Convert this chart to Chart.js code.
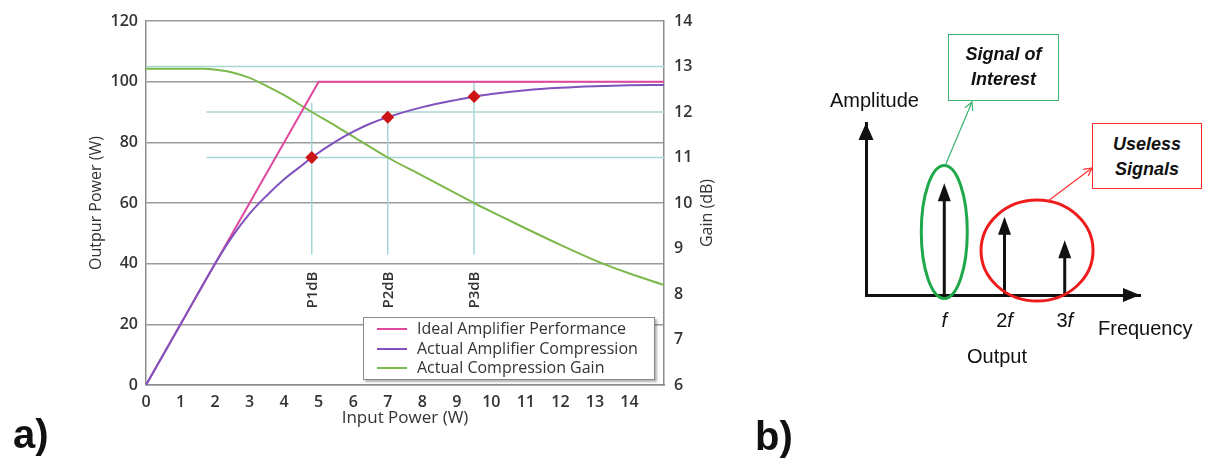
<!DOCTYPE html>
<html><head><meta charset="utf-8">
<script src="https://cdn.jsdelivr.net/npm/chart.js@4.4.1/dist/chart.umd.min.js"></script>
<style>
html,body{margin:0;padding:0;background:#fff;}
body{width:1206px;height:459px;position:relative;overflow:hidden;font-family:"Open Sans",sans-serif;}
canvas{position:absolute;top:0;}
#c1{left:0;}
#c2{left:800px;}
.abs{position:absolute;white-space:nowrap;}
.sans{font-family:"Liberation Sans",Arial,sans-serif;color:#111;}
#legend{position:absolute;left:363px;top:317px;width:290px;height:61px;border:1.5px solid #8a8a8a;background:#fff;box-shadow:2px 2px 2px rgba(0,0,0,0.3);}
.lrow{position:absolute;left:0;height:19.5px;width:100%;font-size:16px;color:#333;line-height:19.5px;}
.lsw{position:absolute;left:13px;top:9px;width:30px;height:2px;}
.ltx{position:absolute;left:53px;top:0;}
.box{position:absolute;box-sizing:border-box;background:#fff;}
.boxtxt{position:absolute;left:0;width:100%;text-align:center;font:italic bold 18px "Liberation Sans",Arial,sans-serif;line-height:25px;color:#111;}
.big{font:bold 40px "Liberation Sans",Arial,sans-serif;color:#111;line-height:40px;}
</style></head>
<body>
<canvas id="c1" width="740" height="459"></canvas>
<canvas id="c2" width="406" height="459"></canvas>
<div id="legend"></div>

<div class="abs sans" style="left:830px;top:88px;font-size:20px;line-height:24px;">Amplitude</div>
<div class="abs sans" style="left:1098px;top:316px;font-size:20px;line-height:24px;">Frequency</div>
<div class="abs sans" style="left:967px;top:344px;font-size:20px;line-height:24px;">Output</div>

<div class="box" style="left:948px;top:34px;width:111px;height:67px;border:1.5px solid #3cb371;"></div>
<div class="boxtxt" style="left:948px;width:111px;top:42px;">Signal of<br>Interest</div>
<div class="box" style="left:1092px;top:123px;width:110px;height:66px;border:1.5px solid #ff2a2a;"></div>
<div class="boxtxt" style="left:1092px;width:110px;top:132px;">Useless<br>Signals</div>

<svg class="abs" width="1206" height="459" style="left:0;top:0;pointer-events:none;">
  <g stroke="#3cb371" stroke-width="1.2" fill="none">
    <line x1="945" y1="166" x2="972" y2="102"/>
    <polyline points="965,107.7 972,102 972.8,111"/>
  </g>
  <g stroke="#ff3030" stroke-width="1.2" fill="none">
    <line x1="1048" y1="201" x2="1092" y2="168"/>
    <polyline points="1083.1,169.4 1092,168 1088.2,176.1"/>
  </g>
</svg>

<div class="abs big" style="left:13px;top:414px;">a)</div>
<div class="abs big" style="left:755px;top:416px;">b)</div>

<script>
// ---------- Panel a) data ----------
const seriesNames = ['Ideal Amplifier Performance', 'Actual Amplifier Compression', 'Actual Compression Gain'];
const inputIdeal  = [0, 5, 15];
const outputIdeal = [0, 100, 100];
const inputActual  = [0, 1, 2, 2.5, 3, 3.5, 4, 4.5, 4.8, 5.5, 6, 6.5, 7, 8, 9, 9.5, 10, 11, 12, 13, 14, 15];
const outputActual = [0, 20, 40, 49, 56.5, 62.5, 67.8, 72.3, 75, 80.3, 83.5, 86.2, 88.3, 91.6, 94.0, 95.0, 95.9, 97.2, 98.0, 98.5, 98.8, 98.9];
const inputGain = [0, 1, 1.7, 2, 2.5, 3, 3.5, 4, 4.8, 5.5, 6, 7, 8, 9, 9.5, 10, 11, 12, 13, 14, 15];
const gainDb    = [12.95, 12.95, 12.95, 12.93, 12.87, 12.75, 12.57, 12.37, 12.0, 11.69, 11.46, 11.0, 10.6, 10.2, 10.0, 9.81, 9.44, 9.08, 8.74, 8.45, 8.2];
const markerInput  = [4.8, 7.0, 9.5];
const markerOutput = [75, 88.3, 95.1];
const markerLabels = ['P1dB', 'P2dB', 'P3dB'];
const gainRefLevels = [13, 12, 11];
const gainRefStart  = [0, 1.75, 1.75];
const pLineTop    = [93, 88.3, 100];
const pLineBottom = [43, 43, 43];
const xTickLabels = [0,1,2,3,4,5,6,7,8,9,10,11,12,13,14];
const outputTicks = [0,20,40,60,80,100,120];
const gainTicks   = [6,7,8,9,10,11,12,13,14];

// ---------- Panel b) data ----------
const harmonicLabels    = ['f', '2f', '3f'];
const harmonicOrder     = [1, 2, 3];
const harmonicAmplitude = [1.0, 0.70, 0.49];

// ---------- helpers ----------
const pts = (xs, ys) => xs.map((x, i) => ({x, y: ys[i]}));
const colors = {ideal:'#e0479e', actual:'#7f52bd', gain:'#7cb84a', ref:'#a6d6d6', marker:'#cc1417', grid:'#9a9a9a', border:'#8c8c8c', text:'#333'};
const FONT = '"Open Sans", sans-serif';

const datasets = [
  {label:'markers', data: pts(markerInput, markerOutput), yAxisID:'y', showLine:false,
   pointStyle:'rectRot', pointRadius:6.5, backgroundColor:colors.marker, borderColor:colors.marker, borderWidth:0, order:0},
  {label:seriesNames[1], data: pts(inputActual, outputActual), yAxisID:'y', borderColor:colors.actual,
   borderWidth:2, pointRadius:0, cubicInterpolationMode:'monotone', order:1},
  {label:seriesNames[0], data: pts(inputIdeal, outputIdeal), yAxisID:'y', borderColor:colors.ideal,
   borderWidth:2, pointRadius:0, order:2},
  {label:seriesNames[2], data: pts(inputGain, gainDb), yAxisID:'y2', borderColor:colors.gain,
   borderWidth:2, pointRadius:0, cubicInterpolationMode:'monotone', order:3},
];
gainRefLevels.forEach((g, i) => datasets.push({label:'ref', data:[{x:gainRefStart[i], y:g}, {x:15, y:g}],
  yAxisID:'y2', borderColor:colors.ref, borderWidth:1.5, pointRadius:0, order:5}));
markerInput.forEach((xv, i) => datasets.push({label:'ref', data:[{x:xv, y:pLineTop[i]}, {x:xv, y:pLineBottom[i]}],
  yAxisID:'y', borderColor:colors.ref, borderWidth:1.5, pointRadius:0, order:5}));

const leftDecor = {
  id:'leftDecor',
  afterDatasetsDraw(chart){
    const {ctx, chartArea:ca, scales:{x}} = chart;
    ctx.save();
    ctx.fillStyle = colors.text;
    ctx.textAlign = 'center'; ctx.textBaseline = 'middle';
    ctx.font = '600 15px ' + FONT;
    markerLabels.forEach((t, i) => {
      const px = x.getPixelForValue(markerInput[i]);
      ctx.save(); ctx.translate(px + 1, 290); ctx.rotate(-Math.PI/2); ctx.fillText(t, 0, 0); ctx.restore();
    });
    ctx.font = '400 16px ' + FONT;
    ctx.translate(ca.right + 43, (ca.top + ca.bottom)/2 + 10);
    ctx.rotate(-Math.PI/2);
    ctx.fillText('Gain (dB)', 0, 0);
    ctx.restore();
  }
};

const tickFont = {family:FONT, size:16, weight:'600'};
const chartA = new Chart(document.getElementById('c1'), {
  type:'line',
  data:{datasets},
  options:{
    responsive:false, animation:false, events:[],
    layout:{padding:{left:83, right:26, top:21, bottom:27}},
    plugins:{legend:{display:false}, tooltip:{enabled:false}},
    scales:{
      x:{type:'linear', min:0, max:15, position:'bottom',
         grid:{display:false}, border:{display:true, color:colors.border, width:1.5},
         ticks:{stepSize:1, autoSkip:false, maxRotation:0, padding:0, color:colors.text, font:tickFont,
                callback:v => xTickLabels.includes(v) ? String(v) : ''},
         title:{display:true, text:'Input Power (W)', color:colors.text, font:{family:FONT, size:17}, padding:{top:0, bottom:4}},
         afterFit:s => { s.height = 47; }},
      y:{type:'linear', min:0, max:120, position:'left',
         grid:{color:colors.grid, lineWidth:1.5, drawTicks:false}, border:{color:colors.border, width:1.5},
         ticks:{stepSize:20, padding:8, color:colors.text, font:tickFont,
                callback:v => outputTicks.includes(v) ? String(v) : ''},
         title:{display:true, text:'Outpur Power (W)', color:colors.text, font:{family:FONT, size:16}, padding:{top:4, bottom:0}},
         afterFit:s => { s.width = 63; }},
      y2:{type:'linear', min:6, max:14, position:'right',
         grid:{drawOnChartArea:false, drawTicks:false}, border:{color:colors.border, width:1.5},
         ticks:{stepSize:1, padding:10, color:colors.text, font:tickFont,
                callback:v => gainTicks.includes(v) ? String(v) : ''},
         afterFit:s => { s.width = 50; }}
    }
  },
  plugins:[leftDecor]
});

// legend built from the chart's datasets
(function(){
  const lg = document.getElementById('legend');
  seriesNames.forEach((name, i) => {
    const ds = chartA.data.datasets.find(d => d.label === name);
    const row = document.createElement('div');
    row.className = 'lrow'; row.style.top = (1 + i*19.5) + 'px';
    row.innerHTML = '<div class="lsw" style="background:' + ds.borderColor + '"></div><div class="ltx">' + name + '</div>';
    lg.appendChild(row);
  });
})();

// ---------- Panel b) ----------
const ellipses = [
  {x:1.0,  y:0.564, rx:0.382, ry:0.595, color:'#1ea84a'},
  {x:2.54, y:0.398, rx:0.93,  ry:0.452, color:'#ee1c1c'}
];
function head(ctx, tx, ty, dx, dy, len, hw){
  const bx = tx - dx*len, by = ty - dy*len, px = -dy, py = dx;
  ctx.beginPath(); ctx.moveTo(tx, ty);
  ctx.lineTo(bx + px*hw, by + py*hw); ctx.lineTo(bx - px*hw, by - py*hw);
  ctx.closePath(); ctx.fill();
}
const rightDecor = {
  id:'rightDecor',
  afterDatasetsDraw(chart){
    const {ctx, chartArea:ca, scales:{x, y}} = chart;
    ctx.save();
    ctx.fillStyle = '#111'; ctx.strokeStyle = '#111';
    head(ctx, ca.left, ca.top, 0, -1, 17, 7.5);
    head(ctx, ca.right, ca.bottom, 1, 0, 17, 7);
    const base = y.getPixelForValue(0);
    const meta = chart.getDatasetMeta(0);
    meta.data.forEach(el => {
      ctx.lineWidth = 3; ctx.beginPath(); ctx.moveTo(el.x, base); ctx.lineTo(el.x, el.y + 10); ctx.stroke();
      head(ctx, el.x, el.y, 0, -1, 18, 6.5);
    });
    ctx.textBaseline = 'alphabetic'; ctx.textAlign = 'left';
    harmonicLabels.forEach((lab, i) => {
      const cx = x.getPixelForValue(harmonicOrder[i]);
      const num = lab.slice(0, -1);
      ctx.font = '20px "Liberation Sans", Arial, sans-serif';
      const w1 = ctx.measureText(num).width;
      ctx.font = 'italic 20px "Liberation Sans", Arial, sans-serif';
      const w2 = ctx.measureText('f').width;
      const start = cx - (w1 + w2)/2;
      ctx.font = '20px "Liberation Sans", Arial, sans-serif';
      ctx.fillText(num, start, ca.bottom + 32);
      ctx.font = 'italic 20px "Liberation Sans", Arial, sans-serif';
      ctx.fillText('f', start + w1, ca.bottom + 32);
    });
    ellipses.forEach(e => {
      const cx = x.getPixelForValue(e.x), cy = y.getPixelForValue(e.y);
      const rx = Math.abs(x.getPixelForValue(e.x + e.rx) - cx), ry = Math.abs(y.getPixelForValue(e.y + e.ry) - cy);
      ctx.beginPath(); ctx.ellipse(cx, cy, rx, ry, 0, 0, Math.PI*2);
      ctx.lineWidth = 3; ctx.strokeStyle = e.color; ctx.stroke();
    });
    ctx.restore();
  }
};
new Chart(document.getElementById('c2'), {
  type:'scatter',
  data:{datasets:[{label:'Output', data: pts(harmonicOrder, harmonicAmplitude), pointRadius:0, showLine:false}]},
  options:{
    responsive:false, animation:false, events:[],
    layout:{padding:{left:66, right:66, top:123, bottom:164}, autoPadding:false},
    plugins:{legend:{display:false}, tooltip:{enabled:false}},
    scales:{
      x:{type:'linear', min:-0.3, max:4.25, grid:{display:false, drawTicks:false}, ticks:{display:false},
         border:{display:true, color:'#111', width:3}, afterFit:s => { s.height = 0; }},
      y:{type:'linear', min:0, max:1.54, grid:{display:false, drawTicks:false}, ticks:{display:false},
         border:{display:true, color:'#111', width:3}, afterFit:s => { s.width = 0; }}
    }
  },
  plugins:[rightDecor]
});
</script>
</body></html>
